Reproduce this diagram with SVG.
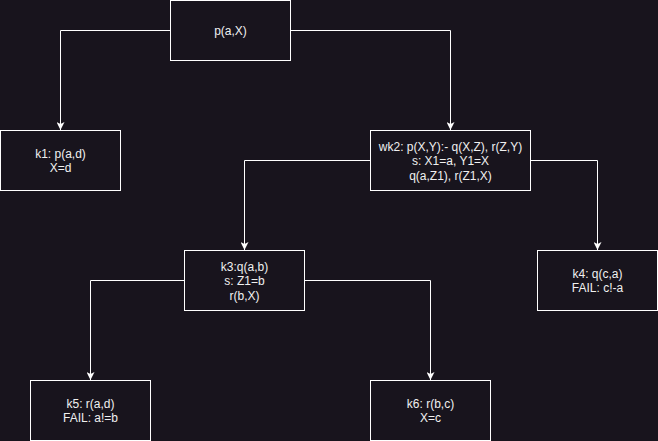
<svg xmlns="http://www.w3.org/2000/svg" width="658" height="441" viewBox="0 0 658 441">
<style>
.box{fill:#18141d;stroke:#ffffff;stroke-width:1}
.t{font-family:"Liberation Sans",Arial,sans-serif;font-size:12px;fill:#f0f0f0;text-anchor:middle}
.e{fill:none;stroke:#ffffff;stroke-width:1;marker-end:url(#arr)}
</style>
<defs>
<marker id="arr" viewBox="0 0 8 8" refX="8" refY="4" markerWidth="8" markerHeight="8" markerUnits="userSpaceOnUse" orient="auto">
<path d="M0,0 L8,4 L0,8 L2,4 Z" fill="#ffffff"/>
</marker>
</defs>
<rect width="658" height="441" fill="#18141d"/>
<g id="connectors">
<path class="e" d="M170.5,30.5 H60.5 V130"/>
<path class="e" d="M290.5,30.5 H450.5 V130"/>
<path class="e" d="M370.5,160.5 H244.5 V250"/>
<path class="e" d="M530.5,160.5 H597.5 V250"/>
<path class="e" d="M184.5,280.5 H90.5 V380"/>
<path class="e" d="M304.5,280.5 H430.5 V380"/>
</g>
<g id="n_p">
<rect class="box" x="170.5" y="0.5" width="120" height="60"/>
<text class="t" x="230.5" y="34.5">p(a,X)</text>
</g>
<g id="n_k1">
<rect class="box" x="0.5" y="130.5" width="120" height="60"/>
<text class="t" x="60.5" y="157.5">k1: p(a,d)</text>
<text class="t" x="60.5" y="171.9">X=d</text>
</g>
<g id="n_wk2">
<rect class="box" x="370.5" y="130.5" width="160" height="60"/>
<text class="t" x="450.5" y="150.7">wk2: p(X,Y):- q(X,Z), r(Z,Y)</text>
<text class="t" x="450.5" y="165.1">s: X1=a, Y1=X</text>
<text class="t" x="450.5" y="179.5">q(a,Z1), r(Z1,X)</text>
</g>
<g id="n_k3">
<rect class="box" x="184.5" y="250.5" width="120" height="60"/>
<text class="t" x="244.5" y="270.7">k3:q(a,b)</text>
<text class="t" x="244.5" y="285.1">s: Z1=b</text>
<text class="t" x="244.5" y="299.5">r(b,X)</text>
</g>
<g id="n_k4">
<rect class="box" x="537.5" y="250.5" width="120" height="60"/>
<text class="t" x="597.5" y="277.5">k4: q(c,a)</text>
<text class="t" x="597.5" y="291.9">FAIL: c!-a</text>
</g>
<g id="n_k5">
<rect class="box" x="30.5" y="380.5" width="120" height="60"/>
<text class="t" x="90.5" y="407.5">k5: r(a,d)</text>
<text class="t" x="90.5" y="421.9">FAIL: a!=b</text>
</g>
<g id="n_k6">
<rect class="box" x="370.5" y="380.5" width="120" height="60"/>
<text class="t" x="430.5" y="407.5">k6: r(b,c)</text>
<text class="t" x="430.5" y="421.9">X=c</text>
</g>
</svg>
